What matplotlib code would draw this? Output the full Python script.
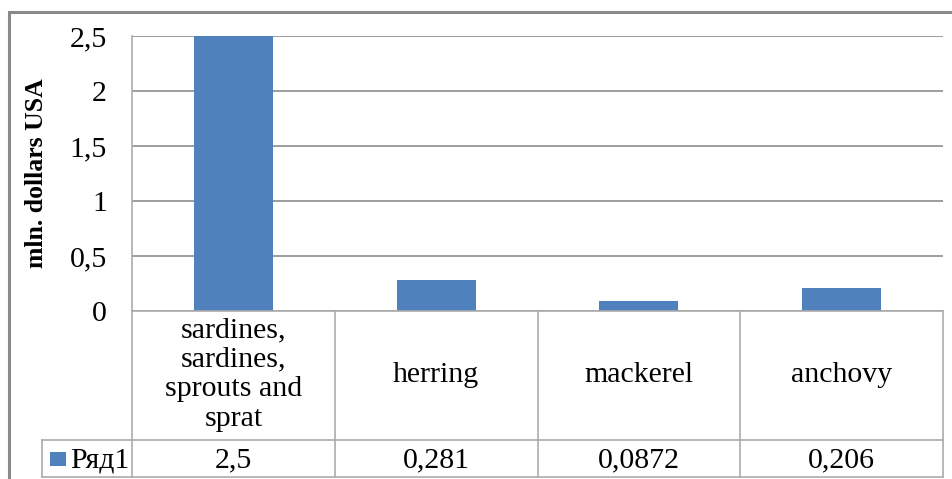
import matplotlib
matplotlib.use('agg')
import matplotlib.pyplot as plt
from matplotlib.patches import Rectangle
from matplotlib.lines import Line2D

categories = ["sardines,\nsardines,\nsprouts and\nsprat", "herring", "mackerel", "anchovy"]
values = [2.5, 0.281, 0.0872, 0.206]
value_labels = ["2,5", "0,281", "0,0872", "0,206"]
yticks = [0, 0.5, 1, 1.5, 2, 2.5]
ytick_labels = ["0", "0,5", "1", "1,5", "2", "2,5"]
series_name = "Ряд1"

W, H = 952, 479
bar_color = '#4F81BD'
grid_color = '#8C8C8C'
table_color = '#ABABAB'
font = 'Liberation Serif'
fs = 21.5

fig = plt.figure(figsize=(W / 100, H / 100), dpi=100)

# outer chart border (cut off at right and bottom like the screenshot)
fig.patches.append(Rectangle((9 / W, -0.1), 1.2, 1 - 12 / H + 0.1, transform=fig.transFigure,
                             fill=False, edgecolor='#8A8A8A', linewidth=2.2))

ax_l, ax_r, ax_t, ax_b = 132, 943, 36, 311
ax = fig.add_axes([ax_l / W, 1 - ax_b / H, (ax_r - ax_l) / W, (ax_b - ax_t) / H])

x = [i + 0.5 for i in range(len(values))]
ax.bar(x, values, width=0.39, color=bar_color, zorder=3)
ax.set_xlim(0, len(values))
ax.set_ylim(0, 2.5)
ax.set_yticks(yticks)
ax.set_yticklabels(ytick_labels, fontfamily=font, fontsize=fs)
ax.tick_params(axis='y', length=0, pad=18)
ax.set_xticks([])
ax.grid(axis='y', color=grid_color, linewidth=1.2, zorder=0)
for s in ['top', 'right', 'bottom']:
    ax.spines[s].set_visible(False)
ax.spines['left'].set_color(table_color)
ax.spines['left'].set_linewidth(1.2)
ax.set_ylabel("mln. dollars USA", fontfamily=font, fontsize=18.5, fontweight='bold')
ax.yaxis.set_label_coords(-0.104, 0.5)

# data table below the axis
def fy(py):
    return 1 - py / H

def fx(px):
    return px / W

row1, row2, bottom = 311, 440, 477
leg_left = 42
bounds = [ax_l + i * (ax_r - ax_l) / len(values) for i in range(len(values) + 1)]
lines = [((ax_l, ax_r), (row1, row1)),
         ((leg_left, ax_r), (row2, row2)),
         ((leg_left, ax_r), (bottom, bottom)),
         ((leg_left, leg_left), (row2, bottom))]
for b in bounds:
    lines.append(((b, b), (row1, bottom)))
for (xs, ys) in lines:
    fig.add_artist(Line2D([fx(xs[0]), fx(xs[1])], [fy(ys[0]), fy(ys[1])], transform=fig.transFigure,
                          color=table_color, linewidth=1.2))

for i, (cat, val) in enumerate(zip(categories, value_labels)):
    cx = (bounds[i] + bounds[i + 1]) / 2
    fig.text(fx(cx), fy((row1 + row2) / 2 - 1), cat, ha='center', va='center', fontfamily=font,
             fontsize=fs, linespacing=1.17)
    fig.text(fx(cx), fy((row2 + bottom) / 2 + 2), val, ha='center', va='center', fontfamily=font,
             fontsize=fs)

# legend key in table
fig.patches.append(Rectangle((fx(50), fy(466)), 16 / W, 14 / H, transform=fig.transFigure,
                             facecolor=bar_color, edgecolor='none'))
fig.text(fx(70), fy((row2 + bottom) / 2 + 2), series_name, ha='left', va='center',
         fontfamily=font, fontsize=fs)

fig.savefig('out.png', dpi=100)
